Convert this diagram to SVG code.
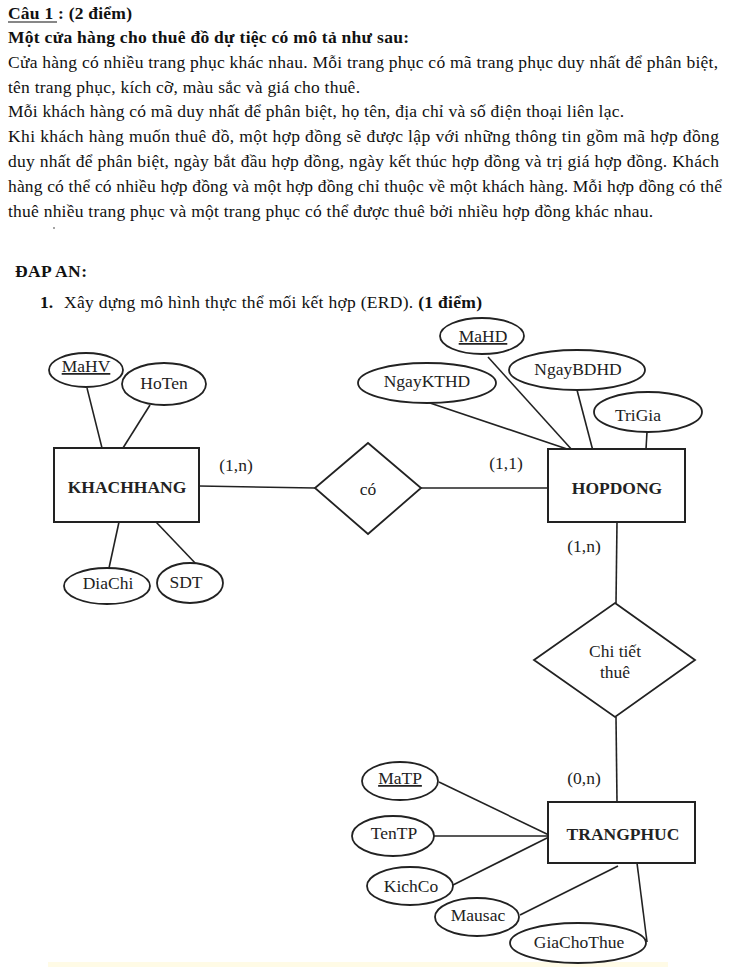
<svg xmlns="http://www.w3.org/2000/svg" width="737" height="971" viewBox="0 0 737 971">
<style>
.t{font-family:"Liberation Serif","Times New Roman",serif;font-size:17.5px;fill:#111}
.b{font-weight:bold}
.d{font-family:"Liberation Serif","Times New Roman",serif;font-size:17.5px;fill:#222;text-anchor:middle}
.e{fill:#fff;stroke:#222;stroke-width:1.8}
.r{fill:#fff;stroke:#222;stroke-width:2}
.c line{stroke:#222;stroke-width:1.6}
</style>
<rect width="737" height="971" fill="#fff"/>
<rect x="48" y="962" width="620" height="5" fill="#fffbe6"/>
<g id="text">
<text class="t b" x="8" y="19" textLength="124" lengthAdjust="spacing">Câu 1 : (2 điểm)</text>
<line x1="8" y1="22" x2="57" y2="22" stroke="#111" stroke-width="1.2"/>
<text class="t b" x="8" y="43" textLength="401" lengthAdjust="spacing">Một cửa hàng cho thuê đồ dự tiệc có mô tả như sau:</text>
<text class="t" x="8" y="68" textLength="710" lengthAdjust="spacing">Cửa hàng có nhiều trang phục khác nhau. Mỗi trang phục có mã trang phục duy nhất để phân biệt,</text>
<text class="t" x="8" y="93" textLength="352" lengthAdjust="spacing">tên trang phục, kích cỡ, màu sắc và giá cho thuê.</text>
<text class="t" x="8" y="117" textLength="616" lengthAdjust="spacing">Mỗi khách hàng có mã duy nhất để phân biệt, họ tên, địa chỉ và số điện thoại liên lạc.</text>
<text class="t" x="8" y="142" textLength="711" lengthAdjust="spacing">Khi khách hàng muốn thuê đồ, một hợp đồng sẽ được lập với những thông tin gồm mã hợp đồng</text>
<text class="t" x="8" y="167" textLength="711" lengthAdjust="spacing">duy nhất để phân biệt, ngày bắt đầu hợp đồng, ngày kết thúc hợp đồng và trị giá hợp đồng. Khách</text>
<text class="t" x="8" y="192" textLength="714" lengthAdjust="spacing">hàng có thể có nhiều hợp đồng và một hợp đồng chỉ thuộc về một khách hàng. Mỗi hợp đồng có thể</text>
<text class="t" x="8" y="217" textLength="645" lengthAdjust="spacing">thuê nhiều trang phục và một trang phục có thể được thuê bởi nhiều hợp đồng khác nhau.</text>
<circle cx="54" cy="228" r="0.8" fill="#333"/>
<text class="t b" x="15" y="277" textLength="72" lengthAdjust="spacing">ĐAP AN:</text>
<text class="t b" x="40" y="308">1.</text>
<text class="t" x="64" y="308" textLength="418" lengthAdjust="spacing">Xây dựng mô hình thực thể mối kết hợp (ERD). <tspan class="b">(1 điểm)</tspan></text>
</g>
<g id="connectors" class="c">
<line x1="87" y1="388" x2="102" y2="448"/>
<line x1="150" y1="405" x2="123" y2="448"/>
<line x1="119" y1="522" x2="109" y2="568"/>
<line x1="156" y1="522" x2="197" y2="565"/>
<line x1="199" y1="486" x2="315" y2="488"/>
<line x1="421" y1="488" x2="548" y2="488"/>
<line x1="427" y1="402" x2="573" y2="451"/>
<line x1="488" y1="357" x2="573" y2="451"/>
<line x1="577" y1="390" x2="593" y2="451"/>
<line x1="647" y1="432" x2="646" y2="449"/>
<line x1="617" y1="522" x2="616" y2="603"/>
<line x1="616" y1="717" x2="617" y2="802"/>
<line x1="439" y1="782" x2="551" y2="836"/>
<line x1="434" y1="836" x2="551" y2="836"/>
<line x1="453" y1="885" x2="551" y2="836"/>
<line x1="520" y1="915" x2="618" y2="866"/>
<line x1="637" y1="863" x2="647" y2="942"/>
</g>
<g id="KHACHHANG">
<rect class="r" x="54" y="448" width="145" height="74"/>
<text class="d b" x="127" y="493">KHACHHANG</text>
</g>
<g id="MaHV">
<ellipse class="e" cx="86" cy="370" rx="37" ry="17"/>
<text class="d" x="86" y="372" text-decoration="underline">MaHV</text>
</g>
<g id="HoTen">
<ellipse class="e" cx="164" cy="384" rx="42" ry="21"/>
<text class="d" x="164" y="389">HoTen</text>
</g>
<g id="DiaChi">
<ellipse class="e" cx="107" cy="586" rx="43" ry="18"/>
<text class="d" x="108" y="589">DiaChi</text>
</g>
<g id="SDT">
<ellipse class="e" cx="190" cy="583" rx="33" ry="20"/>
<text class="d" x="186" y="588">SDT</text>
</g>
<g id="co">
<polygon class="e" points="368,443 421,488 368,534 315,488"/>
<text class="d" x="368" y="495">có</text>
</g>
<g id="HOPDONG">
<rect class="r" x="548" y="449" width="137" height="73"/>
<text class="d b" x="617" y="494">HOPDONG</text>
</g>
<g id="MaHD">
<ellipse class="e" cx="482" cy="336" rx="42" ry="18"/>
<text class="d" x="483" y="342" text-decoration="underline">MaHD</text>
</g>
<g id="NgayKTHD">
<ellipse class="e" cx="427" cy="383" rx="69" ry="20"/>
<text class="d" x="427" y="387">NgayKTHD</text>
</g>
<g id="NgayBDHD">
<ellipse class="e" cx="577" cy="370" rx="68" ry="20"/>
<text class="d" x="578" y="375">NgayBDHD</text>
</g>
<g id="TriGia">
<ellipse class="e" cx="648" cy="412" rx="54" ry="20"/>
<text class="d" x="638" y="421">TriGia</text>
</g>
<g id="ChiTietThue">
<polygon class="e" points="615,603 695,660 615,717 534,660"/>
<text class="d" x="615" y="657">Chi tiết</text>
<text class="d" x="615" y="678">thuê</text>
</g>
<g id="TRANGPHUC">
<rect class="r" x="548" y="802" width="147" height="61"/>
<text class="d b" x="623" y="840">TRANGPHUC</text>
</g>
<g id="MaTP">
<ellipse class="e" cx="400" cy="781" rx="38" ry="19"/>
<text class="d" x="400" y="784" text-decoration="underline">MaTP</text>
</g>
<g id="TenTP">
<ellipse class="e" cx="393" cy="836" rx="41" ry="20"/>
<text class="d" x="394" y="839">TenTP</text>
</g>
<g id="KichCo">
<ellipse class="e" cx="410" cy="886" rx="43" ry="19"/>
<text class="d" x="411" y="892">KichCo</text>
</g>
<g id="Mausac">
<ellipse class="e" cx="477" cy="917" rx="42" ry="19"/>
<text class="d" x="478" y="921">Mausac</text>
</g>
<g id="GiaChoThue">
<ellipse class="e" cx="578" cy="943" rx="68" ry="20"/>
<text class="d" x="579" y="948">GiaChoThue</text>
</g>
<g id="labels">
<text class="d" x="236" y="471">(1,n)</text>
<text class="d" x="506" y="469">(1,1)</text>
<text class="d" x="584" y="552">(1,n)</text>
<text class="d" x="584" y="784">(0,n)</text>
</g>
</svg>
